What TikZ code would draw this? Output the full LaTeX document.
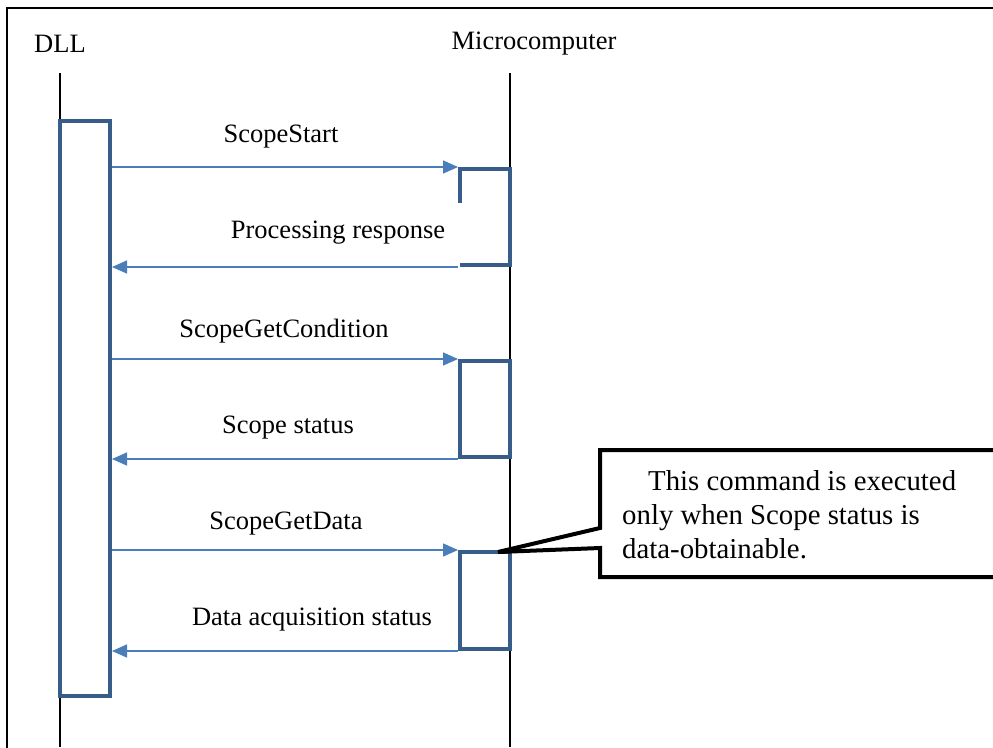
\documentclass[tikz,border=0pt]{standalone}
\usepackage{fontspec}
\setmainfont{Liberation Serif}
\usetikzlibrary{arrows.meta,positioning}
\definecolor{actblue}{HTML}{385D8A}
\definecolor{msgblue}{HTML}{4A7EBB}

\begin{document}
\begin{tikzpicture}[x=1pt,y=-1pt,>=Latex]
  \tikzset{
    lifeline/.style={black,line width=1.3pt},
    act/.style={draw=actblue,line width=4pt,inner sep=0pt,minimum width=50pt},
    msg/.style={msgblue,line width=1.5pt,-{Triangle[length=15pt,width=13pt]}},
    lbl/.style={font=\fontsize{26.5}{30}\selectfont,inner sep=0pt},
    note/.style={font=\fontsize{28.8}{34}\selectfont,align=left,inner sep=0pt}
  }
  \useasboundingbox (0,0) rectangle (993,747);

  % Frame.
  \draw[line width=1.5pt] (7,760) -- (7,8) -- (1010,8);

  % Participants.
  \node[lbl] (dll) at (60,44) {DLL};
  \node[lbl] (mc) at (534,44) {Microcomputer};
  \coordinate (dlltop) at (60,73);
  \coordinate (dllend) at (60,747);
  \coordinate (mctop) at (510,73);
  \coordinate (mcend) at (510,747);
  \draw[lifeline] (dlltop) -- (dllend);
  \draw[lifeline] (mctop) -- (mcend);

  % Activations.
  \node[act,fill=white,minimum height=575pt] (d) at (85,408.5) {};
  \node[act,draw=none,minimum height=96pt] (m1) at (485,217) {};
  \coordinate (m1stub) at (460,203);
  \draw[actblue,line width=4pt] (m1stub) -- ([xshift=2pt,yshift=-2pt]m1.north west)
    -- ([xshift=-2pt,yshift=-2pt]m1.north east) -- ([xshift=-2pt,yshift=2pt]m1.south east)
    -- ([xshift=2pt,yshift=2pt]m1.south west);
  \node[act,minimum height=96pt] (m2) at (485,409) {};
  \node[act,minimum height=97pt] (m3) at (485,600.5) {};

  % Messages.
  \draw[msg] (d.east |- m1.north west) -- (m1.north west);
  \node[lbl] (l1) at (281,137) {ScopeStart};
  \draw[msg] (m1.south west) -- (d.east |- m1.south west);
  \node[lbl] (l2) at (338,233) {Processing response};
  \draw[msg] (d.east |- m2.north west) -- (m2.north west);
  \node[lbl] (l3) at (284,331) {ScopeGetCondition};
  \draw[msg] (m2.south west) -- (d.east |- m2.south west);
  \node[lbl] (l4) at (288,428) {Scope status};
  \draw[msg] (d.east |- m3.north west) -- (m3.north west);
  \node[lbl] (l5) at (286,524) {ScopeGetData};
  \draw[msg] (m3.south west) -- (d.east |- m3.south west);
  \node[lbl] (l6) at (312,620) {Data acquisition status};

  % Callout.
  \coordinate (tip) at (498,552);
  \draw[line width=4pt,line join=miter] (1010,450) -- (600,450) -- (600,528) -- (tip)
    -- (600,548) -- (600,577) -- (1010,577);
  \node[note,anchor=west] (note) at (622,515)
    {\hspace*{26pt}This command is executed\\only when Scope status is\\data-obtainable.};
\end{tikzpicture}
\end{document}
